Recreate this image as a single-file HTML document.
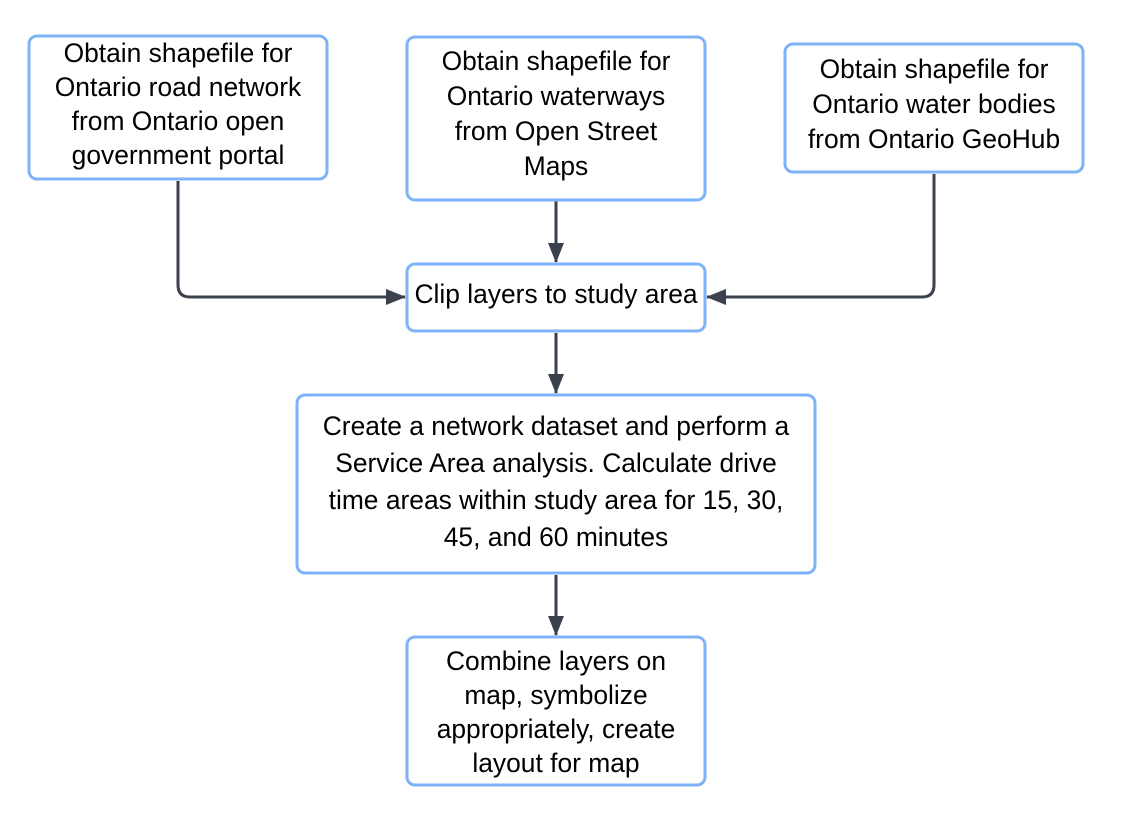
<!DOCTYPE html>
<html><head><style>
html,body{margin:0;padding:0;background:#fff;}
svg{display:block;}
text{font-family:"Liberation Sans",Arial,sans-serif;font-size:26.4px;fill:#000;text-anchor:middle;}
</style></head><body>
<svg width="1122" height="820" viewBox="0 0 1122 820" xmlns="http://www.w3.org/2000/svg">
<defs>
<marker id="b" markerWidth="20" markerHeight="16" refX="19" refY="8" orient="auto" markerUnits="userSpaceOnUse">
<path d="M0,0 L20,8 L0,16 z" fill="#3a414c"/>
</marker>
</defs>
<g fill="none" stroke="#3a414c" stroke-width="3">
<path d="M178,181 V285 Q178,297 190,297 H405" marker-end="url(#b)"/>
<path d="M934,174 V285 Q934,297 922,297 H707" marker-end="url(#b)"/>
<path d="M556,201 V262" marker-end="url(#b)"/>
<path d="M556,333 V393" marker-end="url(#b)"/>
<path d="M556,575 V635" marker-end="url(#b)"/>
</g>
<g fill="#fff" stroke="#7eb3f7" stroke-width="3">
<rect x="29" y="36" width="298" height="143" rx="8"/>
<rect x="407" y="37" width="298" height="163" rx="8"/>
<rect x="785" y="44" width="298" height="128" rx="8"/>
<rect x="407" y="264" width="298" height="67" rx="8"/>
<rect x="297" y="395" width="518" height="178" rx="8"/>
<rect x="407" y="637" width="298" height="148" rx="8"/>
</g>
<text x="178" y="62">Obtain shapefile for</text>
<text x="178" y="96">Ontario road network</text>
<text x="178" y="130">from Ontario open</text>
<text x="178" y="164">government portal</text>

<text x="556" y="70">Obtain shapefile for</text>
<text x="556" y="105">Ontario waterways</text>
<text x="556" y="140">from Open Street</text>
<text x="556" y="175">Maps</text>

<text x="934" y="78">Obtain shapefile for</text>
<text x="934" y="113">Ontario water bodies</text>
<text x="934" y="148">from Ontario GeoHub</text>

<text x="556" y="303">Clip layers to study area</text>

<text x="556" y="435">Create a network dataset and perform a</text>
<text x="556" y="472">Service Area analysis. Calculate drive</text>
<text x="556" y="509">time areas within study area for 15, 30,</text>
<text x="556" y="546">45, and 60 minutes</text>

<text x="556" y="670">Combine layers on</text>
<text x="556" y="704">map, symbolize</text>
<text x="556" y="738">appropriately, create</text>
<text x="556" y="772">layout for map</text>
</svg>
</body></html>
